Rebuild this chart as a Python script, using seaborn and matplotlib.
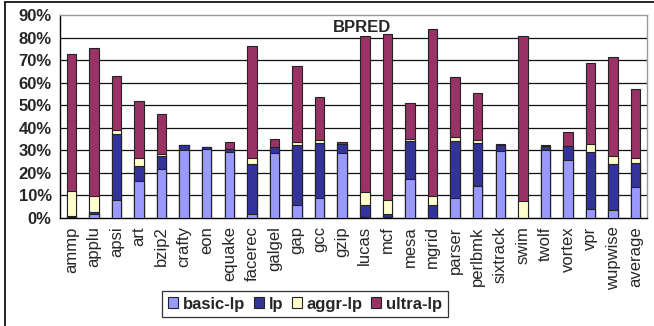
import numpy as np
import pandas as pd
import matplotlib
matplotlib.use("Agg")
import matplotlib.pyplot as plt
from matplotlib.patches import Patch
from matplotlib.lines import Line2D
from matplotlib.ticker import FixedLocator, PercentFormatter
import seaborn as sns

benchmarks = ["ammp", "applu", "apsi", "art", "bzip2", "crafty", "eon", "equake",
              "facerec", "galgel", "gap", "gcc", "gzip", "lucas", "mcf", "mesa",
              "mgrid", "parser", "perlbmk", "sixtrack", "swim", "twolf", "vortex",
              "vpr", "wupwise", "average"]

# share of each technique (%), stacked bottom to top
basic_lp = [0.3, 1.8, 7.8, 16.2, 21.7, 30.2, 30.7, 29.2, 1.8, 28.8, 5.9, 8.8, 28.8,
            0.6, 0.5, 17.3, 0.0, 8.8, 14.3, 29.9, 0.0, 30.2, 25.8, 4.1, 3.7, 13.7]
lp = [0.6, 0.7, 29.4, 6.7, 5.6, 2.0, 0.7, 1.3, 22.1, 2.5, 26.4, 24.4, 3.9,
      5.0, 1.4, 16.9, 5.9, 25.4, 18.9, 2.5, 0.0, 1.5, 6.2, 25.1, 20.2, 10.6]
aggr_lp = [10.9, 7.4, 1.7, 3.6, 1.2, 0.1, 0.0, 0.3, 2.9, 0.2, 1.6, 1.2, 0.2,
           5.8, 5.9, 0.8, 4.0, 1.9, 1.2, 0.0, 7.4, 0.0, 0.1, 3.5, 3.4, 2.5]
ultra_lp = [60.8, 65.5, 23.9, 25.4, 17.4, 0.1, 0.2, 3.1, 49.6, 3.5, 33.5, 19.4, 1.0,
            69.4, 73.6, 15.9, 73.9, 26.3, 20.9, 0.5, 73.3, 0.6, 6.2, 35.9, 44.2, 30.3]

series_names = ["basic-lp", "lp", "aggr-lp", "ultra-lp"]
colors = ["#9999FF", "#333399", "#FFFFCC", "#993366"]
yticks = [0, 10, 20, 30, 40, 50, 60, 70, 80, 90]

sns.set_style("white")
plt.rcParams["font.family"] = ["Liberation Sans", "DejaVu Sans"]

df = pd.DataFrame({"benchmark": benchmarks, "basic-lp": basic_lp, "lp": lp,
                   "aggr-lp": aggr_lp, "ultra-lp": ultra_lp})
cum = df[series_names].cumsum(axis=1)

fig = plt.figure(figsize=(6.54, 3.26), dpi=100)
ax = fig.add_axes([60 / 654, 1 - 218 / 326, 587 / 654, 203 / 326])

# draw cumulative totals from the top segment down so each layer covers the one above
for name, col in reversed(list(zip(series_names, colors))):
    sns.barplot(x=df["benchmark"], y=cum[name], color=col, width=0.42,
                edgecolor="#222222", linewidth=0.8, saturation=1, ax=ax, zorder=3)

ax.set_ylim(0, 90)
ax.set_xlim(-0.5, len(benchmarks) - 0.5)
ax.set_yticks(yticks)
ax.yaxis.set_major_formatter(PercentFormatter(decimals=0))
ax.set_xlabel("")
ax.set_ylabel("")

for y in yticks[1:-1]:
    ax.axhline(y, color="#111111", lw=0.9, zorder=1)

ax.tick_params(axis="y", which="major", length=4, width=0.9, direction="out",
               labelsize=12, pad=2, color="black")
for lbl in ax.get_yticklabels():
    lbl.set_fontweight("bold")

ax.tick_params(axis="x", which="major", length=0, labelsize=12, pad=6)
ax.set_xticks(range(len(benchmarks)))
ax.set_xticklabels(benchmarks, rotation=90)
ax.xaxis.set_minor_locator(FixedLocator(np.arange(-0.5, len(benchmarks), 1.0)))
ax.tick_params(axis="x", which="minor", length=5, width=0.9, direction="out", color="black")

for side in ["left", "bottom"]:
    ax.spines[side].set_color("black")
    ax.spines[side].set_linewidth(1.0)
for side in ["top", "right"]:
    ax.spines[side].set_color("#999999")
    ax.spines[side].set_linewidth(1.0)

ax.text(0.514, 0.94, "BPRED", transform=ax.transAxes, ha="center", va="center",
        fontsize=12, fontweight="bold")

handles = [Patch(facecolor=c, edgecolor="#222222", linewidth=0.8) for c in colors]
leg = fig.legend(handles, series_names, loc="center", ncol=4,
                 bbox_to_anchor=(305 / 654, 1 - 304 / 326),
                 prop={"weight": "bold", "size": 12}, frameon=True, fancybox=False,
                 handlelength=0.6, handleheight=0.6, handletextpad=0.3,
                 columnspacing=0.5, borderpad=0.35, edgecolor="black")
leg.get_frame().set_linewidth(0.9)

# outer chart frame
fig.add_artist(Line2D([5 / 654, 1], [1 - 2 / 326] * 2, transform=fig.transFigure,
                      color="black", lw=1.2))
fig.add_artist(Line2D([5 / 654] * 2, [0, 1 - 2 / 326], transform=fig.transFigure,
                      color="black", lw=1.2))

fig.savefig("out.png", dpi=100)
